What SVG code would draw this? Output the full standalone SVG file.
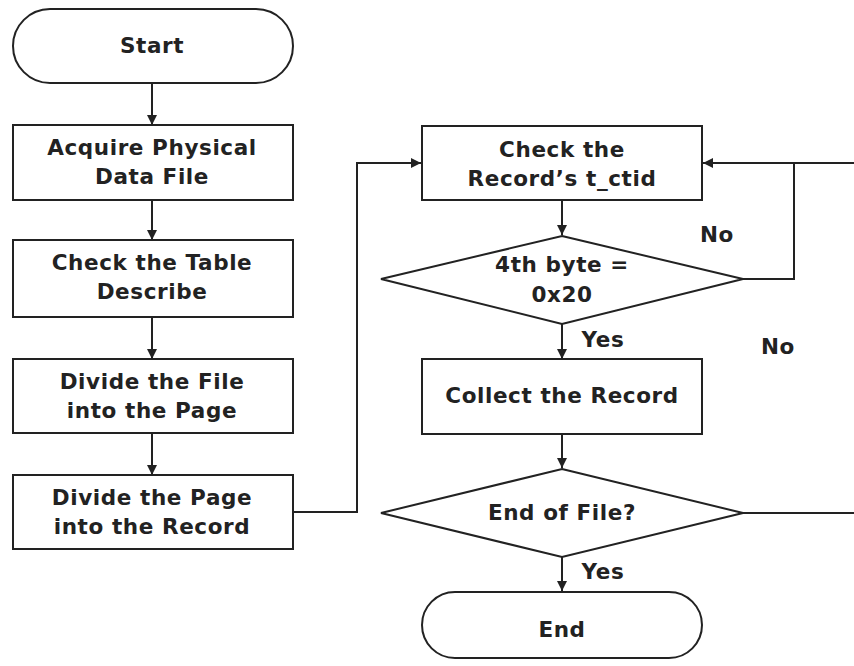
<svg xmlns="http://www.w3.org/2000/svg" width="854" height="666" viewBox="0 0 854 666">
<style>
.s{fill:#fff;stroke:#222;stroke-width:2}
.t{font-family:"DejaVu Sans","Liberation Sans",sans-serif;font-weight:bold;font-size:21.5px;letter-spacing:0.6px;fill:#222;text-anchor:middle}
.c{fill:none;stroke:#222;stroke-width:2}
</style>
<defs>
<marker id="a" markerUnits="userSpaceOnUse" markerWidth="12" markerHeight="12" refX="10" refY="5" orient="auto"><path d="M0,0 L10,5 L0,10 Z" fill="#222"/></marker>
</defs>
<rect width="854" height="666" fill="#fff"/>
<g id="connectors">
<line class="c" x1="152" y1="83" x2="152" y2="125" marker-end="url(#a)"/>
<line class="c" x1="152" y1="200" x2="152" y2="240" marker-end="url(#a)"/>
<line class="c" x1="152" y1="317" x2="152" y2="359" marker-end="url(#a)"/>
<line class="c" x1="152" y1="433" x2="152" y2="475" marker-end="url(#a)"/>
<polyline class="c" points="292,512 357,512 357,163 421,163" marker-end="url(#a)"/>
<line class="c" x1="562" y1="200" x2="562" y2="235" marker-end="url(#a)"/>
<line class="c" x1="562" y1="324" x2="562" y2="359" marker-end="url(#a)"/>
<line class="c" x1="562" y1="434" x2="562" y2="468" marker-end="url(#a)"/>
<line class="c" x1="562" y1="557" x2="562" y2="591" marker-end="url(#a)"/>
<polyline class="c" points="743,279 794,279 794,163 703,163" marker-end="url(#a)"/>
<line class="c" x1="794" y1="163" x2="854" y2="163"/>
<line class="c" x1="743" y1="513" x2="854" y2="513"/>
</g>
<g id="start"><rect class="s" x="13" y="9" width="280" height="74" rx="37"/><text class="t" x="152" y="53">Start</text></g>
<g id="acquire"><rect class="s" x="13" y="125" width="280" height="75"/><text class="t" x="152" y="155">Acquire Physical</text><text class="t" x="152" y="184">Data File</text></g>
<g id="table"><rect class="s" x="13" y="240" width="280" height="77"/><text class="t" x="152" y="270">Check the Table</text><text class="t" x="152" y="299">Describe</text></g>
<g id="divfile"><rect class="s" x="13" y="359" width="280" height="74"/><text class="t" x="152" y="389">Divide the File</text><text class="t" x="152" y="418">into the Page</text></g>
<g id="divpage"><rect class="s" x="13" y="475" width="280" height="74"/><text class="t" x="152" y="505">Divide the Page</text><text class="t" x="152" y="534">into the Record</text></g>
<g id="check"><rect class="s" x="422" y="126" width="280" height="74"/><text class="t" x="562" y="157">Check the</text><text class="t" x="562" y="186">Record’s t_ctid</text></g>
<g id="byte"><polygon class="s" points="562,236 743,279 562,324 381,279"/><text class="t" x="562" y="272">4th byte =</text><text class="t" x="562" y="302">0x20</text></g>
<g id="collect"><rect class="s" x="422" y="359" width="280" height="75"/><text class="t" x="562" y="403">Collect the Record</text></g>
<g id="eof"><polygon class="s" points="562,469 743,513 562,557 381,513"/><text class="t" x="562" y="520">End of File?</text></g>
<g id="end"><rect class="s" x="422" y="592" width="280" height="66" rx="33"/><text class="t" x="562" y="637">End</text></g>
<g id="labels">
<text class="t" x="717" y="242">No</text>
<text class="t" x="603" y="347">Yes</text>
<text class="t" x="778" y="354">No</text>
<text class="t" x="603" y="579">Yes</text>
</g>
</svg>
